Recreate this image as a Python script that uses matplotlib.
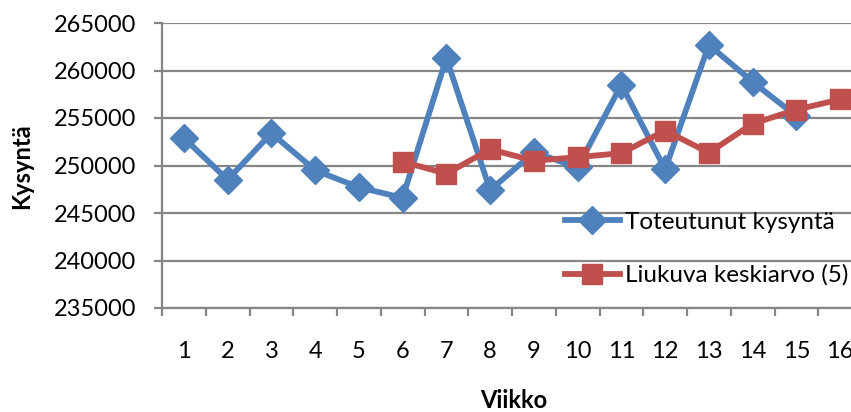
import matplotlib
matplotlib.use("Agg")
import matplotlib.pyplot as plt
from matplotlib.ticker import FixedLocator

plt.rcParams['font.family'] = ['Lato', 'DejaVu Sans']

weeks = list(range(1, 17))
week_labels = [str(w) for w in weeks]

actual_weeks = list(range(1, 16))
actual_demand = [252900, 248500, 253400, 249500, 247700, 246600, 261300, 247400,
                 251400, 249800, 258500, 249600, 262700, 258800, 255200]

ma_weeks = list(range(6, 17))
moving_avg = [250400, 249140, 251700, 250500, 250880, 251300, 253680, 251340,
              254400, 255880, 256960]

y_ticks = [235000, 240000, 245000, 250000, 255000, 260000, 265000]

blue = '#4F81BD'
red = '#C0504D'
grid_gray = '#868686'

W, H = 851, 412
fig = plt.figure(figsize=(W / 100, H / 100), dpi=100)
ax = fig.add_axes([162 / W, 1 - 308 / H, 700 / W, 285 / H])

ax.plot(actual_weeks, actual_demand, color=blue, lw=4.2, marker='D', ms=14,
        label='Toteutunut kysyntä', zorder=3)
ax.plot(ma_weeks, moving_avg, color=red, lw=4.2, marker='s', ms=14,
        label='Liukuva keskiarvo (5)', zorder=4)

ax.set_xlim(0.5, 16.5)
ax.set_ylim(235000, 265000)
ax.set_yticks(y_ticks)
ax.set_yticklabels([str(v) for v in y_ticks])
ax.set_xticks(weeks)
ax.set_xticklabels(week_labels)
ax.xaxis.set_minor_locator(FixedLocator([w - 0.5 for w in weeks] + [16.5]))

ax.yaxis.grid(True, color=grid_gray, lw=1.6)
ax.set_axisbelow(True)
for s in ['top', 'right']:
    ax.spines[s].set_visible(False)
for s in ['left', 'bottom']:
    ax.spines[s].set_color(grid_gray)
    ax.spines[s].set_linewidth(1.6)

ax.tick_params(axis='y', length=5.5, width=1.6, color=grid_gray, pad=13,
               labelsize=17)
ax.tick_params(axis='x', which='major', length=0, pad=24, labelsize=17)
ax.tick_params(axis='x', which='minor', length=5.5, width=1.6, color=grid_gray)

fig.text(22 / W, 1 - 166 / H, 'Kysyntä', rotation=90, ha='center', va='center',
         fontsize=17, fontweight='bold')
fig.text(514 / W, 1 - 401 / H, 'Viikko', ha='center', va='center',
         fontsize=17, fontweight='bold')

leg = fig.legend(loc='center left', bbox_to_anchor=(565 / W, 1 - 249 / H),
                 frameon=False, fontsize=17.5, handlelength=2.25,
                 handletextpad=0.2, labelspacing=1.3, borderpad=0,
                 borderaxespad=0)

fig.savefig('out.png', dpi=100)
